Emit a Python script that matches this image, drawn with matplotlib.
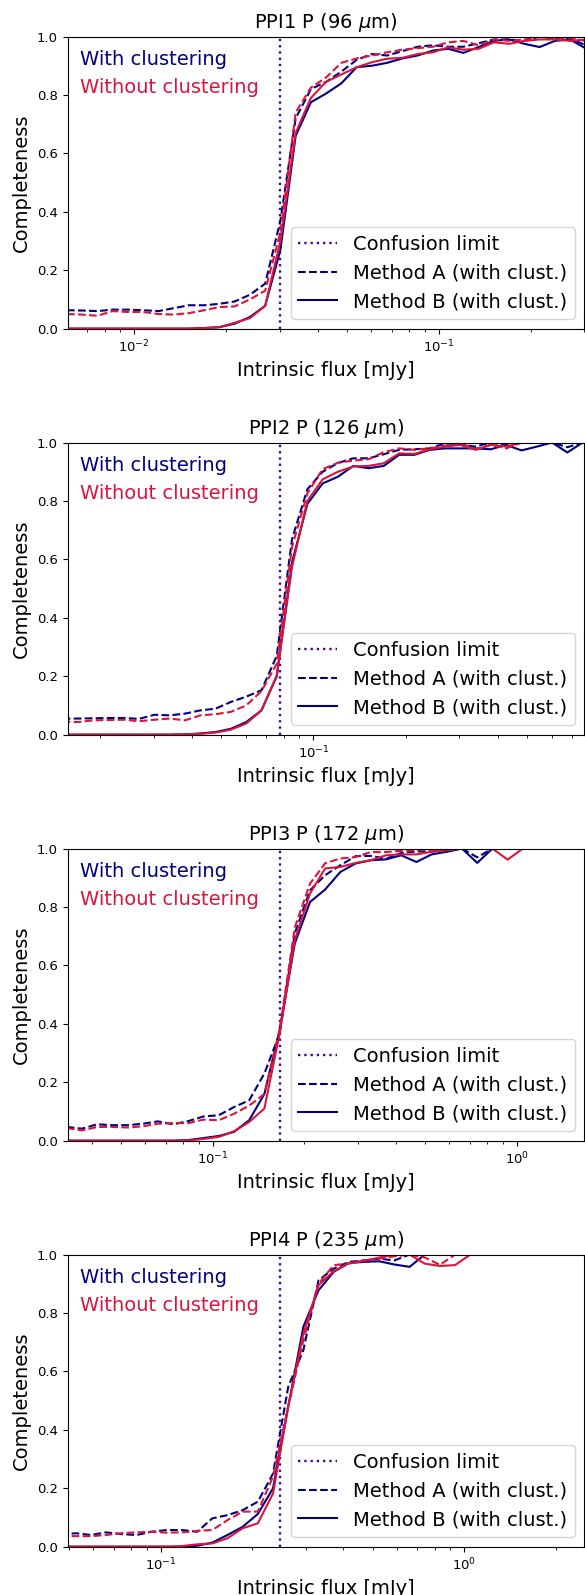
import matplotlib
matplotlib.use('Agg')
import matplotlib.pyplot as plt

# panel titles, confusion limits and x ranges (mJy)
titles = ['PPI1 P (96 $\\mu$m)', 'PPI2 P (126 $\\mu$m)', 'PPI3 P (172 $\\mu$m)', 'PPI4 P (235 $\\mu$m)']
conf_lim = [0.0301, 0.078, 0.166, 0.247]
xlims = [(0.00605, 0.300), (0.0157, 0.769), (0.0333, 1.67), (0.0493, 2.49)]

# --- PPI1 ---
p1_flux = [0.006026, 0.006761, 0.007586, 0.008511, 0.009550, 0.010715, 0.012023, 0.013490, 0.015136,
           0.016982, 0.019055, 0.021380, 0.023988, 0.026915, 0.030200, 0.033884, 0.038019, 0.042658,
           0.047863, 0.053703, 0.060256, 0.067608, 0.075858, 0.085114, 0.095499, 0.10715, 0.12023,
           0.13490, 0.15136, 0.16982, 0.19055, 0.21380, 0.23988, 0.26915, 0.30200]
p1_a_with = [0.063, 0.062, 0.060, 0.065, 0.065, 0.063, 0.060, 0.070, 0.080, 0.080, 0.085, 0.093, 0.116,
             0.154, 0.37, 0.72, 0.82, 0.845, 0.88, 0.92, 0.94, 0.935, 0.95, 0.965, 0.97, 0.965, 0.965,
             0.977, 0.99, 0.99, 0.985, 1.0, 0.995, 0.995, 0.97]
p1_a_without = [0.050, 0.048, 0.044, 0.060, 0.057, 0.057, 0.050, 0.048, 0.053, 0.063, 0.074, 0.076, 0.100,
                0.130, 0.33, 0.74, 0.825, 0.86, 0.91, 0.925, 0.935, 0.946, 0.955, 0.96, 0.965, 0.98, 0.985,
                0.97, 0.99, 0.985, 0.99, 1.0, 0.99, 0.995, 0.985]
p1_b_with = [0, 0, 0, 0, 0, 0, 0, 0, 0, 0.002, 0.005, 0.017, 0.040, 0.078, 0.27, 0.66, 0.775, 0.805, 0.84,
             0.895, 0.90, 0.91, 0.925, 0.935, 0.952, 0.958, 0.944, 0.964, 0.985, 0.99, 0.975, 0.964, 0.985,
             0.99, 0.96]
p1_b_without = [0, 0, 0, 0, 0, 0, 0, 0, 0, 0.002, 0.005, 0.020, 0.036, 0.078, 0.30, 0.67, 0.79, 0.845, 0.87,
                0.895, 0.912, 0.924, 0.927, 0.94, 0.946, 0.963, 0.955, 0.958, 0.98, 0.975, 0.985, 0.99, 0.99,
                0.985, 0.99]

# --- PPI2 ---
p2_flux = [0.015136, 0.016982, 0.019055, 0.021380, 0.023988, 0.026915, 0.030200, 0.033884, 0.038019,
           0.042658, 0.047863, 0.053703, 0.060256, 0.067608, 0.075858, 0.085114, 0.095499, 0.10715,
           0.12023, 0.13490, 0.15136, 0.16982, 0.19055, 0.21380, 0.23988, 0.26915, 0.30200, 0.33884,
           0.38019, 0.42658, 0.47863, 0.53703, 0.60256, 0.67608, 0.75858, 0.85114]
p2_a_with = [0.055, 0.055, 0.056, 0.057, 0.057, 0.054, 0.068, 0.066, 0.072, 0.083, 0.089, 0.112, 0.130,
             0.152, 0.27, 0.67, 0.84, 0.90, 0.93, 0.946, 0.946, 0.96, 0.975, 0.977, 0.98, 0.997, 0.994,
             0.986, 1.0, 0.99, 1.0, 1.0, 1.0, 0.984, 1.0, 1.0]
p2_a_without = [0.045, 0.043, 0.049, 0.050, 0.051, 0.046, 0.051, 0.055, 0.049, 0.066, 0.070, 0.078, 0.100,
                0.149, 0.243, 0.643, 0.826, 0.909, 0.931, 0.938, 0.943, 0.967, 0.98, 0.975, 0.98, 0.989,
                0.998, 0.977, 0.992, 0.98, 1.0, 1.0, 1.0, 1.0, 1.0, 1.0]
p2_b_with = [0, 0, 0, 0, 0, 0, 0, 0, 0.001, 0.004, 0.009, 0.020, 0.043, 0.083, 0.20, 0.59, 0.79, 0.86,
             0.883, 0.92, 0.912, 0.92, 0.958, 0.958, 0.975, 0.98, 0.98, 0.98, 0.977, 0.992, 0.973, 0.986,
             1.0, 0.966, 1.0, 1.0]
p2_b_without = [0, 0, 0, 0, 0, 0, 0, 0, 0.001, 0.003, 0.007, 0.017, 0.038, 0.083, 0.203, 0.575, 0.80,
                0.874, 0.90, 0.918, 0.92, 0.929, 0.963, 0.961, 0.977, 0.986, 0.992, 0.975, 0.992, 0.986,
                1.0, 1.0, 1.0, 1.0, 1.0, 1.0]

# --- PPI3 ---
p3_flux = [0.033113, 0.037154, 0.041687, 0.046774, 0.052481, 0.058884, 0.066069, 0.074131, 0.083176,
           0.093325, 0.10471, 0.11749, 0.13183, 0.14791, 0.16596, 0.18621, 0.20893, 0.23442, 0.26303,
           0.29512, 0.33113, 0.37154, 0.41687, 0.46774, 0.52481, 0.58884, 0.66069, 0.74131, 0.83176,
           0.93325, 1.0471, 1.1749, 1.3183, 1.4791, 1.6596]
p3_a_with = [0.047, 0.041, 0.056, 0.053, 0.053, 0.058, 0.066, 0.056, 0.067, 0.083, 0.087, 0.115, 0.138,
             0.23, 0.366, 0.71, 0.857, 0.909, 0.943, 0.974, 0.975, 0.965, 0.985, 0.99, 0.99, 0.995, 1.0,
             0.97, 1.0, 1.0, 1.0, 1.0, 1.0, 1.0, 1.0]
p3_a_without = [0.043, 0.035, 0.047, 0.047, 0.045, 0.049, 0.058, 0.060, 0.060, 0.072, 0.070, 0.092, 0.120,
                0.160, 0.378, 0.73, 0.88, 0.95, 0.966, 0.971, 0.988, 0.988, 0.992, 0.994, 0.997, 1.0, 1.0,
                1.0, 1.0, 1.0, 1.0, 1.0, 1.0, 1.0, 1.0]
p3_b_with = [0, 0, 0, 0, 0, 0, 0, 0, 0.002, 0.009, 0.016, 0.030, 0.070, 0.160, 0.378, 0.675, 0.817, 0.86,
             0.92, 0.949, 0.96, 0.963, 0.977, 0.954, 0.98, 0.989, 1.0, 0.951, 1.0, 1.0, 1.0, 1.0, 1.0,
             1.0, 1.0]
p3_b_without = [0, 0, 0, 0, 0, 0, 0, 0, 0.001, 0.006, 0.013, 0.032, 0.064, 0.110, 0.366, 0.686, 0.846,
                0.932, 0.937, 0.951, 0.96, 0.977, 0.98, 0.98, 0.989, 0.994, 1.0, 1.0, 1.0, 0.962, 1.0,
                1.0, 1.0, 1.0, 1.0]

# --- PPI4 ---
p4_flux = [0.046774, 0.052481, 0.058884, 0.066069, 0.074131, 0.083176, 0.093325, 0.10471, 0.11749,
           0.13183, 0.14791, 0.16596, 0.18621, 0.20893, 0.23442, 0.26303, 0.29512, 0.33113, 0.37154,
           0.41687, 0.46774, 0.52481, 0.58884, 0.66069, 0.74131, 0.83176, 0.93325, 1.0471, 1.1749,
           1.3183, 1.4791, 1.6596, 1.8621, 2.0893, 2.3442, 2.6303]
p4_a_with = [0.042, 0.046, 0.040, 0.049, 0.043, 0.040, 0.051, 0.057, 0.057, 0.051, 0.097, 0.108, 0.125,
             0.154, 0.25, 0.547, 0.673, 0.912, 0.952, 0.975, 0.98, 0.986, 0.98, 1.0, 1.0, 1.0, 1.0, 1.0,
             1.0, 1.0, 1.0, 1.0, 1.0, 1.0, 1.0, 1.0]
p4_a_without = [0.036, 0.036, 0.036, 0.040, 0.046, 0.049, 0.051, 0.048, 0.049, 0.054, 0.057, 0.091, 0.120,
                0.120, 0.24, 0.479, 0.707, 0.90, 0.964, 0.969, 0.98, 0.986, 0.994, 1.0, 0.99, 0.965, 1.0,
                1.0, 1.0, 1.0, 1.0, 1.0, 1.0, 1.0, 1.0, 1.0]
p4_b_with = [0, 0, 0, 0, 0, 0, 0, 0, 0, 0.003, 0.014, 0.040, 0.068, 0.112, 0.20, 0.479, 0.753, 0.878,
             0.941, 0.971, 0.975, 0.977, 0.966, 0.958, 1.0, 1.0, 1.0, 1.0, 1.0, 1.0, 1.0, 1.0, 1.0, 1.0,
             1.0, 1.0]
p4_b_without = [0, 0, 0, 0, 0, 0, 0, 0, 0.002, 0.008, 0.011, 0.029, 0.063, 0.080, 0.182, 0.479, 0.73,
                0.895, 0.943, 0.971, 0.978, 0.99, 1.0, 1.0, 0.969, 0.961, 0.964, 1.0, 1.0, 1.0, 1.0, 1.0,
                1.0, 1.0, 1.0, 1.0]

panels = [
    (p1_flux, p1_a_with, p1_a_without, p1_b_with, p1_b_without),
    (p2_flux, p2_a_with, p2_a_without, p2_b_with, p2_b_without),
    (p3_flux, p3_a_with, p3_a_without, p3_b_with, p3_b_without),
    (p4_flux, p4_a_with, p4_a_without, p4_b_with, p4_b_without),
]

c_with = 'navy'
c_without = 'crimson'
c_conf = '#3a0e8e'

fig, axes = plt.subplots(4, 1, figsize=(5.85, 15.95), dpi=100)
fig.subplots_adjust(left=0.1154, right=0.9991, top=0.9771, bottom=0.0303, hspace=0.39)

for i, ax in enumerate(axes):
    flux, a_w, a_wo, b_w, b_wo = panels[i]
    ax.axvline(conf_lim[i], color=c_conf, ls=':', lw=1.7, label='Confusion limit')
    ax.plot(flux, a_w, color=c_with, ls='--', lw=1.5, label='Method A (with clust.)')
    ax.plot(flux, b_w, color=c_with, ls='-', lw=1.5, label='Method B (with clust.)')
    ax.plot(flux, a_wo, color=c_without, ls='--', lw=1.5)
    ax.plot(flux, b_wo, color=c_without, ls='-', lw=1.5)
    ax.set_xscale('log')
    ax.set_xlim(*xlims[i])
    ax.set_ylim(0, 1)
    ax.set_title(titles[i], fontsize=14)
    ax.set_xlabel('Intrinsic flux [mJy]', fontsize=14)
    ax.set_ylabel('Completeness', fontsize=14)
    ax.tick_params(labelsize=9.5)
    ax.text(0.024, 0.923, 'With clustering', color=c_with, fontsize=14,
            transform=ax.transAxes, ha='left', va='center')
    ax.text(0.024, 0.824, 'Without clustering', color=c_without, fontsize=14,
            transform=ax.transAxes, ha='left', va='center')
    ax.legend(loc='lower right', fontsize=14)

fig.savefig('out.png', dpi=100)
